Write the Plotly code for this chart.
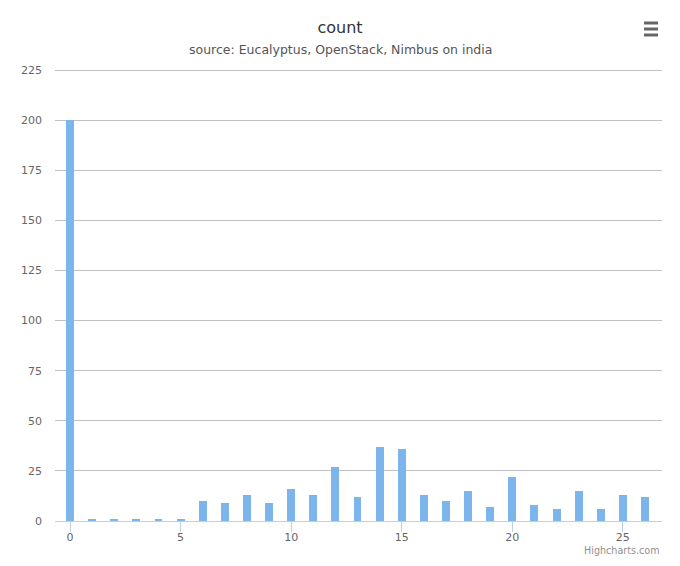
import plotly.graph_objects as go

categories = list(range(27))
counts = [200, 1, 1, 1, 1, 1, 10, 9, 13, 9, 16, 13, 27, 12, 37, 36, 13, 10, 15, 7, 22, 8, 6, 15, 6, 13, 12]
x_ticks = [0, 5, 10, 15, 20, 25]
y_ticks = [0, 25, 50, 75, 100, 125, 150, 175, 200, 225]

OFF = 8  # page body margin
W, H = 680, 566
L, R, T, B = 55 - OFF, 18 + OFF, 70 - OFF, 45 + OFF
pw, ph = W - L - R, H - T - B

def px(x):
    return (x - OFF - L) / pw

def py(y):
    return (H - B - (y - OFF)) / ph

fig = go.Figure()
fig.add_trace(go.Bar(x=categories, y=counts, marker_color="#7cb5ec",
                     marker_line_width=0, width=0.36, name="count"))

fig.update_layout(
    width=W, height=H,
    margin=dict(l=L, r=R, t=T, b=B),
    paper_bgcolor="white", plot_bgcolor="white",
    font=dict(family="DejaVu Sans", color="#666666", size=11),
    showlegend=False,
    title=dict(text="count", x=px(340), xanchor="center", y=1 - (27 - OFF) / H, yanchor="middle",
               xref="paper",
               font=dict(size=16, color="#333333", family="DejaVu Sans")),
    xaxis=dict(range=[-0.68, 26.77], tickvals=x_ticks, ticktext=[str(v) for v in x_ticks],
               showgrid=False, zeroline=False, showline=True, linecolor="#C0D0E0", linewidth=1,
               ticks="outside", ticklen=10, tickcolor="#C0D0E0", tickwidth=1,
               ticklabelstandoff=-4,
               tickfont=dict(size=11, color="#666666")),
    yaxis=dict(range=[0, 225], tickvals=y_ticks, ticktext=[str(v) for v in y_ticks],
               showgrid=True, gridcolor="#C0C0C0", gridwidth=1, zeroline=False,
               showline=False, ticks="", ticklabelstandoff=12,
               tickfont=dict(size=11, color="#666666")),
    bargap=0,
)

# top gridline at the range edge (nudged onto a whole pixel row)
fig.add_shape(type="line", xref="paper", yref="y", x0=0, x1=1,
              y0=y_ticks[-1] - 0.25, y1=y_ticks[-1] - 0.25,
              line=dict(color="#C0C0C0", width=1), layer="below")

fig.add_annotation(text="source: Eucalyptus, OpenStack, Nimbus on india", xref="paper", yref="paper",
                   x=px(340), y=py(50), xanchor="center", yanchor="middle",
                   showarrow=False, font=dict(size=12.5, color="#555555", family="DejaVu Sans"))
fig.add_annotation(text="Highcharts.com", xref="paper", yref="paper",
                   x=px(662), y=py(550), xanchor="right", yanchor="middle",
                   showarrow=False, font=dict(size=9.6, color="#909090", family="DejaVu Sans"))

for yy in [23, 29, 35]:
    fig.add_shape(type="line", xref="paper", yref="paper",
                  x0=px(644), x1=px(658), y0=py(yy), y1=py(yy),
                  line=dict(color="#666666", width=3))

fig.write_html("out.html")
